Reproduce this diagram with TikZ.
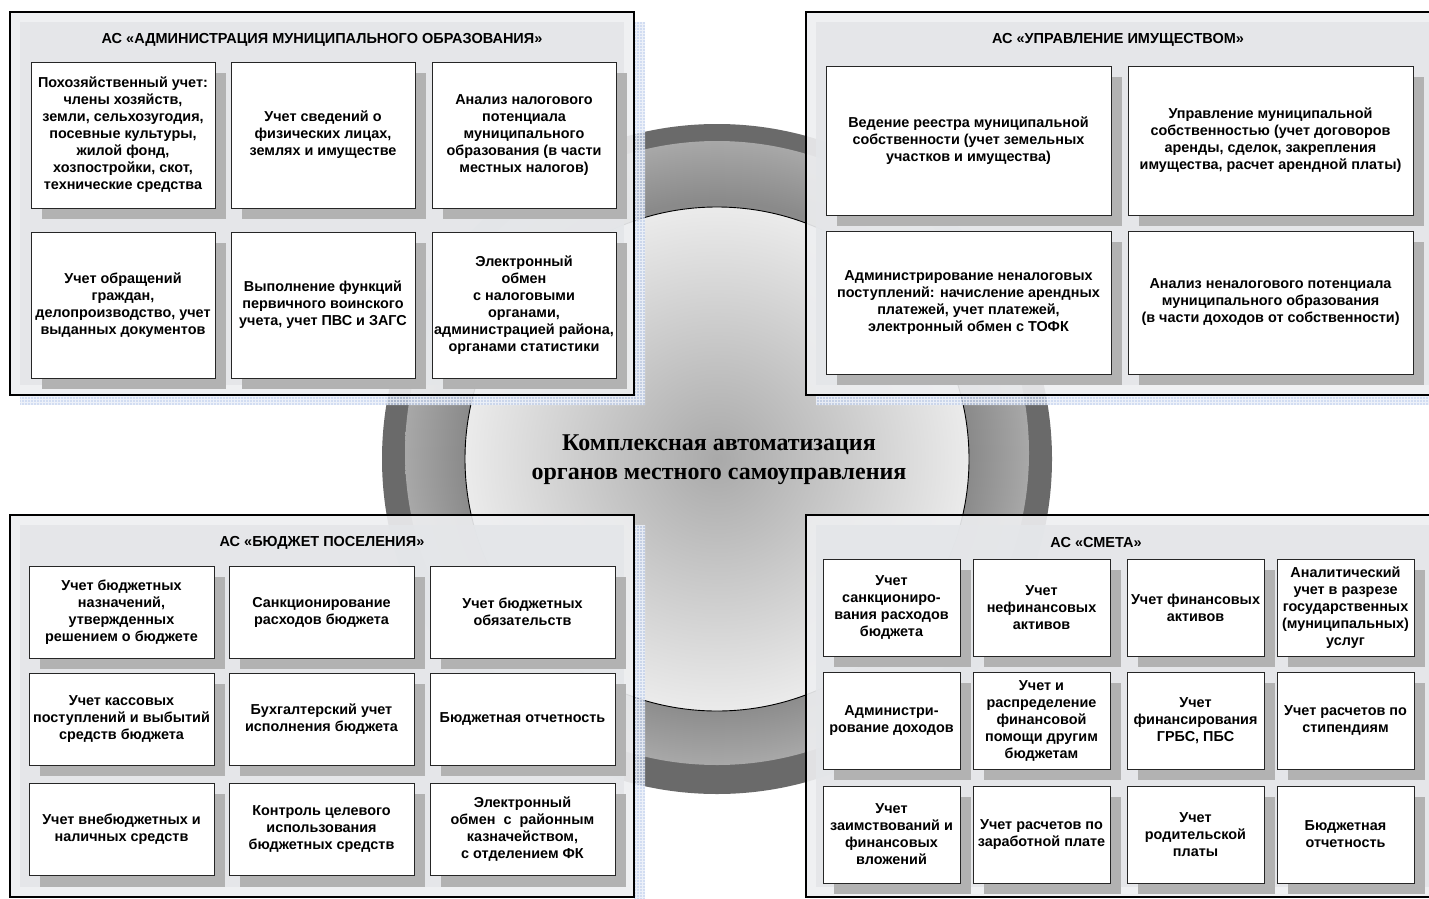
\documentclass[tikz,border=0pt]{standalone}
\usepackage{fontspec}
\setmainfont{Liberation Sans}
\newfontfamily\serifbold{Liberation Serif}
\definecolor{ringdark}{HTML}{6A6A6A}
\definecolor{midA}{HTML}{8A8A8A}
\definecolor{midB}{HTML}{A8A8A8}
\definecolor{discA}{HTML}{A9A9A9}
\definecolor{discB}{HTML}{EBEBEB}
\definecolor{panelouter}{HTML}{EEEFF1}
\definecolor{panelinner}{HTML}{E4E6E9}
\definecolor{blueshade}{HTML}{C3D2EE}
\definecolor{boxshadow}{HTML}{B2B2B2}
\pgfdeclareradialshading{midring}{\pgfpoint{0bp}{0bp}}{color(0bp)=(midA); color(20.2bp)=(midA); color(25bp)=(midB); color(50bp)=(midB)}
\pgfdeclareradialshading{innerdisc}{\pgfpoint{0bp}{0bp}}{color(0bp)=(discA); color(25bp)=(discB); color(50bp)=(discB)}
\pgfdeclarelayer{backlayer}
\pgfdeclarelayer{shadowlayer}
\pgfsetlayers{backlayer,shadowlayer,main}
\tikzset{
  blueshadow/.style={fill=blueshade, fill opacity=0.75},
  panelborder/.style={draw=black, line width=2.4pt},
  box/.style={draw=black!85, line width=0.9pt, fill=white, align=center, inner sep=2pt,
    font=\fontsize{14.4}{17}\selectfont\bfseries},
  paneltitle/.style={font=\fontsize{14.5}{17}\selectfont\bfseries, inner sep=0pt},
  tlbox/.style={box, minimum width=184pt, minimum height=146pt},
  trbox/.style={box, minimum width=285pt},
  blbox/.style={box, minimum width=185pt, minimum height=92pt},
  brbox/.style={box, minimum width=137pt, minimum height=97pt},
  centertext/.style={font=\serifbold\fontsize{24}{29}\selectfont\bfseries, align=center, inner sep=0pt}
}
\begin{document}
\begin{tikzpicture}[x=1pt,y=-1pt]
\useasboundingbox (0,0) rectangle (1429,899);
\begin{pgfonlayer}{backlayer}
\clip (0,0) rectangle (1429,899);
\fill[white] (0,0) rectangle (1429,899);
% central disc
\fill[ringdark] (717,459) circle[radius=335pt];
\shade[shading=midring] (717,453) circle[radius=312pt];
\shadedraw[shading=innerdisc, draw=black, line width=0.9pt] (717,459) circle[radius=252pt];
% blue shadows of the panels
\fill[blueshadow] (634,22) rectangle (645,405);
\fill[blueshadow] (20,395) rectangle (634,405);
\fill[blueshadow] (816,395) rectangle (1429,405);
\fill[blueshadow] (634,525) rectangle (645,899);
\begin{scope}
  \clip (634,22) rectangle (645,405) (20,395) rectangle (634,405) (816,395) rectangle (1429,405) (634,525) rectangle (645,899);
  \draw[white, opacity=0.6, line width=0.6pt, step=3pt] (0,0) grid (1429,899);
\end{scope}
% panels
\foreach \x/\y/\X/\Y in {10/12/634/395, 806/12/1440/395, 10/515/634/897, 806/515/1440/897}{
  \fill[panelouter, fill opacity=0.9] (\x,\y) rectangle (\X,\Y);
  \fill[panelinner, fill opacity=0.9] (\x+10,\y+10) rectangle (\X-10,\Y-10);
  \draw[panelborder] (\x,\y) rectangle (\X,\Y);
}
\end{pgfonlayer}
% titles
\node[paneltitle] (t1) at (322,40) {АС «АДМИНИСТРАЦИЯ МУНИЦИПАЛЬНОГО ОБРАЗОВАНИЯ»};
\node[paneltitle] (t2) at (1118,40) {АС «УПРАВЛЕНИЕ ИМУЩЕСТВОМ»};
\node[paneltitle] (t3) at (322,543) {АС «БЮДЖЕТ ПОСЕЛЕНИЯ»};
\node[paneltitle] (t4) at (1096,543) {АС «СМЕТА»};
% top left boxes
\node[tlbox] (a1) at (123,135) {Похозяйственный учет:\\члены хозяйств,\\земли, сельхозугодия,\\посевные культуры,\\жилой фонд,\\хозпостройки, скот,\\технические средства};
\node[tlbox] (a2) at (323,135) {Учет сведений о\\физических лицах,\\землях и имуществе};
\node[tlbox] (a3) at (524,135) {Анализ налогового\\потенциала\\муниципального\\образования (в части\\местных налогов)};
\node[tlbox] (a4) at (123,305) {Учет обращений\\граждан,\\делопроизводство, учет\\выданных документов};
\node[tlbox] (a5) at (323,305) {Выполнение функций\\первичного воинского\\учета, учет ПВС и ЗАГС};
\node[tlbox] (a6) at (524,305) {Электронный\\обмен\\с налоговыми\\органами,\\администрацией района,\\органами статистики};
% top right boxes
\node[trbox, minimum height=149pt] (b1) at (968.5,140.5) {Ведение реестра муниципальной\\собственности (учет земельных\\участков и имущества)};
\node[trbox, minimum height=149pt] (b2) at (1270.5,140.5) {Управление муниципальной\\собственностью (учет договоров\\аренды, сделок, закрепления\\имущества, расчет арендной платы)};
\node[trbox, minimum height=143pt] (b3) at (968.5,302.5) {Администрирование неналоговых\\поступлений: начисление арендных\\платежей, учет платежей,\\электронный обмен с ТОФК};
\node[trbox, minimum height=143pt] (b4) at (1270.5,302.5) {Анализ неналогового потенциала\\муниципального образования\\(в части доходов от собственности)};
% bottom left boxes
\node[blbox] (c1) at (121.5,612) {Учет бюджетных\\назначений,\\утвержденных\\решением о бюджете};
\node[blbox] (c2) at (321.5,612) {Санкционирование\\расходов бюджета};
\node[blbox] (c3) at (522.5,612) {Учет бюджетных\\обязательств};
\node[blbox] (c4) at (121.5,719) {Учет кассовых\\поступлений и выбытий\\средств бюджета};
\node[blbox] (c5) at (321.5,719) {Бухгалтерский учет\\исполнения бюджета};
\node[blbox] (c6) at (522.5,719) {Бюджетная отчетность};
\node[blbox] (c7) at (121.5,829.5) {Учет внебюджетных и\\наличных средств};
\node[blbox] (c8) at (321.5,829.5) {Контроль целевого\\использования\\бюджетных средств};
\node[blbox] (c9) at (522.5,829.5) {Электронный\\обмен\ \ с\ \ районным\\казначейством,\\с отделением ФК};
% bottom right boxes
\node[brbox] (d1) at (891.5,607.5) {Учет\\санкциониро-\\вания расходов\\бюджета};
\node[brbox] (d2) at (1041.5,607.5) {Учет\\нефинансовых\\активов};
\node[brbox] (d3) at (1195.5,607.5) {Учет финансовых\\активов};
\node[brbox] (d4) at (1345.5,607.5) {Аналитический\\учет в разрезе\\государственных\\(муниципальных)\\услуг};
\node[brbox] (d5) at (891.5,720.5) {Администри-\\рование доходов};
\node[brbox] (d6) at (1041.5,720.5) {Учет и\\распределение\\финансовой\\помощи другим\\бюджетам};
\node[brbox] (d7) at (1195.5,720.5) {Учет\\финансирования\\ГРБС, ПБС};
\node[brbox] (d8) at (1345.5,720.5) {Учет расчетов по\\стипендиям};
\node[brbox] (d9) at (891.5,834.5) {Учет\\заимствований и\\финансовых\\вложений};
\node[brbox] (d10) at (1041.5,834.5) {Учет расчетов по\\заработной плате};
\node[brbox] (d11) at (1195.5,834.5) {Учет\\родительской\\платы};
\node[brbox] (d12) at (1345.5,834.5) {Бюджетная\\отчетность};
% box shadows
\begin{pgfonlayer}{shadowlayer}
\foreach \n in {a1,a2,a3,a4,a5,a6,b1,b2,b3,b4,c1,c2,c3,c4,c5,c6,c7,c8,c9,d1,d2,d3,d4,d5,d6,d7,d8,d9,d10,d11,d12}{
  \fill[boxshadow] ([xshift=11pt,yshift=-11pt]\n.north west) rectangle ([xshift=11pt,yshift=-11pt]\n.south east);
}
\end{pgfonlayer}
% central caption
\node[centertext] (main) at (719,460) {Комплексная автоматизация\\органов местного самоуправления};
\end{tikzpicture}
\end{document}
